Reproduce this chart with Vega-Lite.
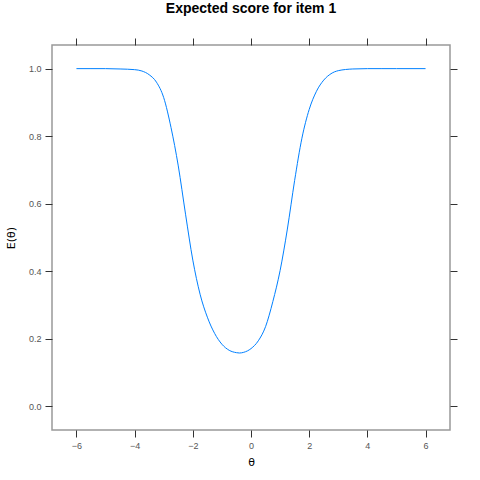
{
  "$schema": "https://vega.github.io/schema/vega-lite/v6.json",
  "width": 398,
  "height": 385,
  "autosize": {"type": "none"},
  "padding": {"left": 52, "top": 45, "right": 30, "bottom": 50},
  "title": {"text": "Expected score for item 1", "font": "Liberation Sans", "fontSize": 14, "fontWeight": "bold", "color": "#000000", "offset": 22, "anchor": "middle"},
  "config": {
    "view": {"stroke": "#999999", "strokeWidth": 1.5},
    "axis": {"grid": false, "domain": false, "tickColor": "#333333", "tickSize": 7, "tickWidth": 1, "labelFont": "Liberation Sans", "labelFontSize": 9, "labelColor": "#555555", "labelPadding": 4, "titleFont": "DejaVu Sans", "titleFontSize": 11, "titleFontWeight": "normal", "titleColor": "#000000"}
  },
  "data": {"values": [
    {"theta": -6, "E": 1.0},
    {"theta": -5.5, "E": 1.0},
    {"theta": -5, "E": 1.0},
    {"theta": -4.5, "E": 0.999},
    {"theta": -4, "E": 0.997},
    {"theta": -3.75, "E": 0.993},
    {"theta": -3.5, "E": 0.982},
    {"theta": -3.25, "E": 0.96},
    {"theta": -3.0, "E": 0.914},
    {"theta": -2.75, "E": 0.826},
    {"theta": -2.5, "E": 0.712},
    {"theta": -2.25, "E": 0.569},
    {"theta": -2.0, "E": 0.433},
    {"theta": -1.75, "E": 0.332},
    {"theta": -1.5, "E": 0.264},
    {"theta": -1.25, "E": 0.216},
    {"theta": -1.0, "E": 0.184},
    {"theta": -0.75, "E": 0.166},
    {"theta": -0.5, "E": 0.159},
    {"theta": -0.4, "E": 0.158},
    {"theta": -0.25, "E": 0.16},
    {"theta": 0, "E": 0.171},
    {"theta": 0.25, "E": 0.194},
    {"theta": 0.5, "E": 0.236},
    {"theta": 0.75, "E": 0.31},
    {"theta": 1.0, "E": 0.402},
    {"theta": 1.25, "E": 0.525},
    {"theta": 1.5, "E": 0.669},
    {"theta": 1.75, "E": 0.794},
    {"theta": 2.0, "E": 0.879},
    {"theta": 2.25, "E": 0.933},
    {"theta": 2.5, "E": 0.966},
    {"theta": 2.75, "E": 0.985},
    {"theta": 3.0, "E": 0.994},
    {"theta": 3.5, "E": 0.999},
    {"theta": 4, "E": 1.0},
    {"theta": 4.5, "E": 1.0},
    {"theta": 5, "E": 1.0},
    {"theta": 5.5, "E": 1.0},
    {"theta": 6, "E": 1.0}
  ]},
  "layer": [
    {
      "mark": {"type": "line", "color": "#0080ff", "strokeWidth": 1, "interpolate": "monotone"},
      "encoding": {
        "x": {"field": "theta", "type": "quantitative", "scale": {"domain": [-6.84, 6.84], "nice": false, "zero": false}, "axis": {"orient": "bottom", "title": "θ", "values": [-6, -4, -2, 0, 2, 4, 6], "format": "d", "titlePadding": 6}},
        "y": {"field": "E", "type": "quantitative", "scale": {"domain": [-0.07, 1.07], "nice": false, "zero": false}, "axis": {"orient": "left", "title": "E(θ)", "values": [0, 0.2, 0.4, 0.6, 0.8, 1.0], "format": ".1f", "titlePadding": 12}}
      }
    },
    {
      "mark": {"type": "line", "opacity": 0},
      "encoding": {
        "x": {"field": "theta", "type": "quantitative", "scale": {"domain": [-6.84, 6.84], "nice": false, "zero": false}, "axis": {"orient": "top", "title": null, "labels": false, "values": [-6, -4, -2, 0, 2, 4, 6]}},
        "y": {"field": "E", "type": "quantitative", "scale": {"domain": [-0.07, 1.07], "nice": false, "zero": false}, "axis": {"orient": "right", "title": null, "labels": false, "values": [0, 0.2, 0.4, 0.6, 0.8, 1.0]}}
      }
    }
  ],
  "resolve": {"axis": {"x": "independent", "y": "independent"}}
}
